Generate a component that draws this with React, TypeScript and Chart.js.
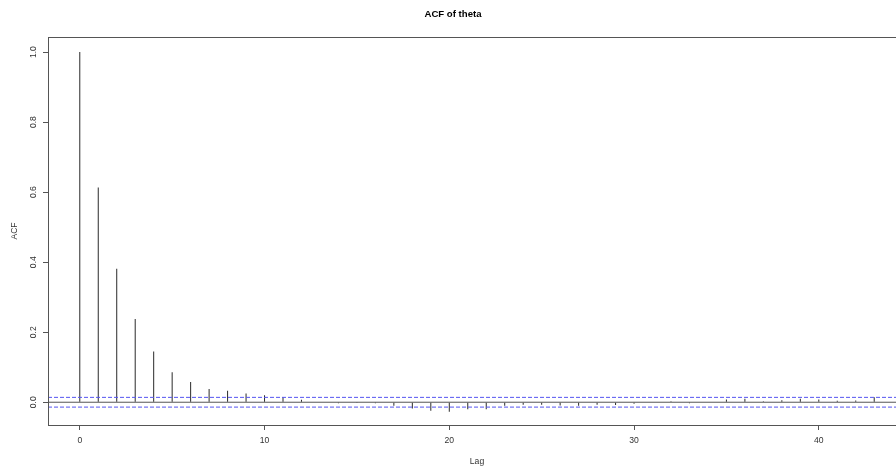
import { useEffect, useRef } from "react";
import { Chart, registerables } from "chart.js";

Chart.register(...registerables);

// ---- data ----
const chartTitle = "ACF of theta";
const xAxisLabel = "Lag";
const yAxisLabel = "ACF";
const lags = [
  0, 1, 2, 3, 4, 5, 6, 7, 8, 9, 10, 11, 12, 13, 14, 15, 16, 17, 18, 19, 20, 21,
  22, 23, 24, 25, 26, 27, 28, 29, 30, 31, 32, 33, 34, 35, 36, 37, 38, 39, 40,
  41, 42, 43,
];
const acfValues = [
  1.0, 0.613, 0.381, 0.238, 0.145, 0.086, 0.058, 0.038, 0.033, 0.025, 0.02,
  0.014, 0.007, 0.0, -0.003, -0.002, -0.003, -0.01, -0.018, -0.024, -0.027,
  -0.02, -0.02, -0.01, -0.007, -0.007, -0.009, -0.01, -0.007, -0.008, -0.004,
  0.0, 0.003, -0.003, 0.0, 0.008, 0.01, 0.003, 0.006, 0.01, 0.008, 0.004,
  0.005, 0.014,
];
const confLimit = 0.0139;
const xTickValues = [0, 10, 20, 30, 40];
const yTickValues = [0, 0.2, 0.4, 0.6, 0.8, 1.0];
const yAxisMin = -0.065;
const yAxisMax = 1.043;

const FONT = "'Liberation Sans', Arial, Helvetica, sans-serif";
const CONF_COLOR = "rgb(85,85,240)";

export default function App() {
  const ref = useRef<HTMLCanvasElement | null>(null);

  useEffect(() => {
    if (!ref.current) return;
    const maxLag = Math.max(...lags);
    const xMin = -0.04 * maxLag;
    const xMax = 1.04 * maxLag;

    const boxPlugin = {
      id: "plotBox",
      afterDraw(chart: any) {
        const { ctx, chartArea: a } = chart;
        ctx.save();
        ctx.strokeStyle = "#555";
        ctx.lineWidth = 1;
        ctx.strokeRect(
          Math.round(a.left) + 0.5,
          Math.round(a.top) + 0.5,
          Math.round(a.right - a.left),
          Math.round(a.bottom - a.top)
        );
        ctx.restore();
      },
    };

    const confLine = (value: number) => ({
      type: "line",
      data: [
        { x: xMin, y: value },
        { x: xMax, y: value },
      ],
      borderColor: CONF_COLOR,
      backgroundColor: CONF_COLOR,
      borderWidth: 1,
      borderDash: [4, 2],
      pointRadius: 0,
      fill: false,
      order: -1,
    });

    const chart = new Chart(ref.current, {
      type: "bar",
      data: {
        datasets: [
          {
            type: "bar",
            data: lags.map((l, i) => ({ x: l, y: acfValues[i] })),
            backgroundColor: "#2a2a2a",
            borderWidth: 0,
            barThickness: 1,
            inflateAmount: 0,
          } as any,
          {
            type: "line",
            data: [
              { x: xMin, y: 0 },
              { x: xMax, y: 0 },
            ],
            borderColor: "#555",
            borderWidth: 1,
            pointRadius: 0,
            fill: false,
          },
          confLine(confLimit) as any,
          confLine(-confLimit) as any,
        ],
      },
      options: {
        animation: false,
        responsive: false,
        maintainAspectRatio: false,
        events: [],
        layout: { padding: 0 },
        plugins: {
          legend: { display: false },
          tooltip: { enabled: false },
          title: {
            display: true,
            text: chartTitle,
            color: "#000",
            font: { family: FONT, size: 9.6, weight: "bold", lineHeight: 1.2 },
            padding: { top: 9, bottom: 16.5 },
          },
        },
        scales: {
          x: {
            type: "linear",
            min: xMin,
            max: xMax,
            offset: false,
            border: { display: false },
            grid: {
              display: true,
              drawOnChartArea: false,
              drawTicks: true,
              tickLength: 5,
              color: "#555",
              offset: false,
            },
            afterBuildTicks(scale: any) {
              scale.ticks = xTickValues.map((v) => ({ value: v }));
            },
            afterFit(scale: any) {
              scale.height = 42;
            },
            ticks: {
              includeBounds: false,
              autoSkip: false,
              maxRotation: 0,
              padding: 5.5,
              color: "#333",
              font: { family: FONT, size: 8.6 },
              callback: (v: any) => String(Math.round(Number(v))),
            },
            title: {
              display: true,
              text: xAxisLabel,
              color: "#333",
              font: { family: FONT, size: 8.6 },
              padding: { top: 0, bottom: 0 },
            },
          },
          y: {
            type: "linear",
            min: yAxisMin,
            max: yAxisMax,
            border: { display: false },
            grid: {
              display: true,
              drawOnChartArea: false,
              drawTicks: true,
              tickLength: 5,
              color: "#555",
            },
            afterBuildTicks(scale: any) {
              scale.ticks = yTickValues.map((v) => ({ value: v }));
            },
            afterFit(scale: any) {
              scale.width = 48;
            },
            ticks: {
              includeBounds: false,
              autoSkip: false,
              minRotation: 90,
              maxRotation: 90,
              crossAlign: "center",
              padding: 3,
              color: "#333",
              font: { family: FONT, size: 8.6 },
              callback: (v: any) => Number(v).toFixed(1),
            },
            title: {
              display: true,
              text: yAxisLabel,
              color: "#333",
              font: { family: FONT, size: 8.6 },
              padding: { top: 9, bottom: 0 },
            },
          },
        },
      } as any,
      plugins: [boxPlugin],
    });
    return () => chart.destroy();
  }, []);

  return (
    <div
      style={{
        position: "fixed",
        left: 0,
        top: 0,
        width: 896,
        height: 467,
        overflow: "hidden",
        background: "#fff",
      }}
    >
      <canvas
        ref={ref}
        width={906}
        height={467}
        style={{ display: "block", width: 906, height: 467 }}
      />
    </div>
  );
}
